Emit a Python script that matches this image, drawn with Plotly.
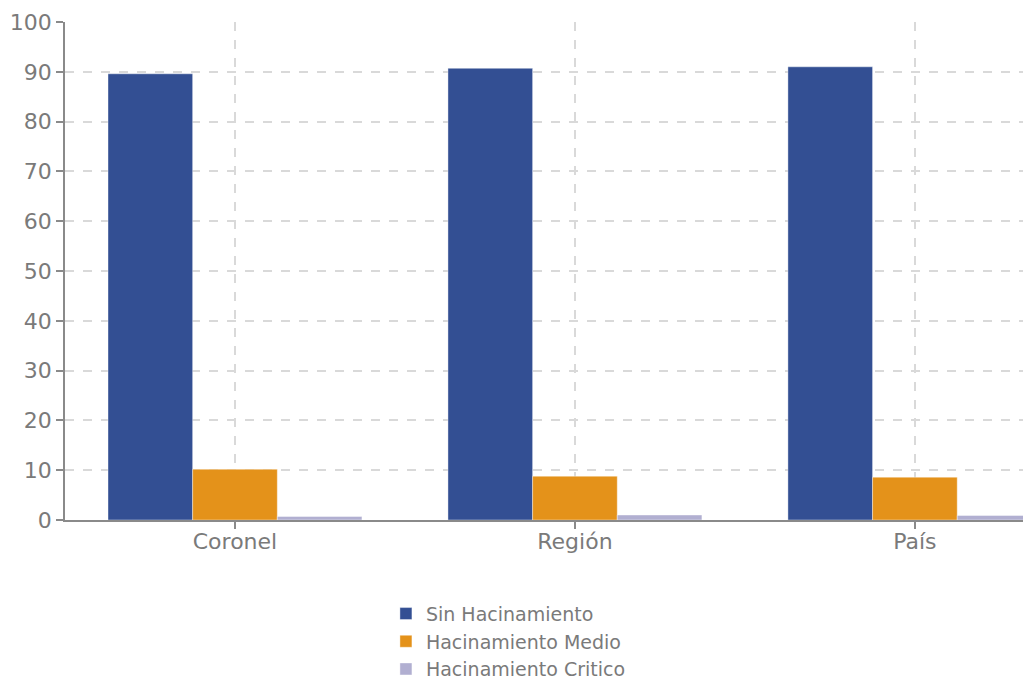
import plotly.graph_objects as go

categories = ["Coronel", "Región", "País"]
sin_hacinamiento = [89.6, 90.7, 91.0]
hacinamiento_medio = [10.2, 8.8, 8.6]
hacinamiento_critico = [0.7, 1.0, 0.9]

series_names = ["Sin Hacinamiento", "Hacinamiento Medio", "Hacinamiento Critico"]
colors = ["#334f93", "#e4921a", "#b1afd1"]
series_values = [sin_hacinamiento, hacinamiento_medio, hacinamiento_critico]

fig = go.Figure()
for name, vals, col in zip(series_names, series_values, colors):
    fig.add_trace(go.Bar(
        x=categories, y=vals, name=name,
        marker=dict(color=col, line=dict(color="rgba(255,255,255,0.4)", width=1)),
    ))

font_family = "DejaVu Sans"
grid_col = "#d9d9d9"
axis_col = "#8a8a8a"
txt_col = "#7a7a7a"

fig.update_layout(
    width=1023, height=682,
    margin=dict(l=65, r=0, t=22, b=162, autoexpand=False),
    paper_bgcolor="white", plot_bgcolor="white",
    barmode="group", bargap=0.253, bargroupgap=0,
    font=dict(family=font_family, color=txt_col, size=22),
    showlegend=True,
    legend=dict(
        orientation="v",
        x=0.335, xanchor="left", y=-0.15, yanchor="top",
        font=dict(size=19, color=txt_col, family=font_family),
        bgcolor="rgba(0,0,0,0)", itemwidth=30, tracegroupgap=0,
    ),
    xaxis=dict(
        type="category", range=[-0.5, 2.318],
        showline=True, linecolor=axis_col, linewidth=1.5,
        ticks="outside", ticklen=7, tickcolor=axis_col, tickwidth=1.5,
        ticklabelstandoff=-6,
        showgrid=True, gridcolor=grid_col, griddash="dash", gridwidth=1.5,
        tickfont=dict(size=22, color=txt_col),
    ),
    yaxis=dict(
        range=[0, 100], dtick=10,
        showline=True, linecolor=axis_col, linewidth=1.5,
        ticks="outside", ticklen=7, tickcolor=axis_col, tickwidth=1.5,
        showgrid=True, gridcolor=grid_col, griddash="dash", gridwidth=1.5,
        zeroline=False,
        tickfont=dict(size=22, color=txt_col),
    ),
)

fig.write_html("out.html")
